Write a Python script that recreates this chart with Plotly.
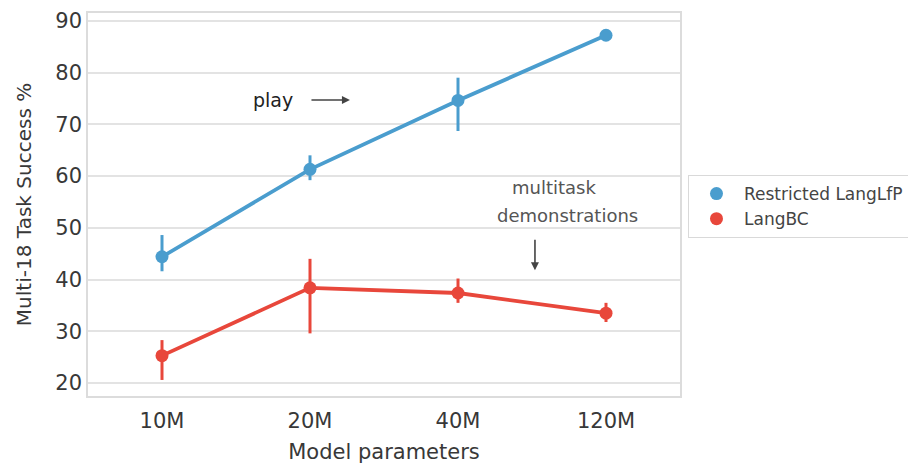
import plotly.graph_objects as go

categories = ["10M", "20M", "40M", "120M"]
lfp_mean = [44.4, 61.3, 74.6, 87.2]
lfp_lo = [41.6, 59.2, 68.7, 86.2]
lfp_hi = [48.6, 64.0, 79.0, 88.2]
bc_mean = [25.3, 38.4, 37.4, 33.5]
bc_lo = [20.6, 29.6, 35.5, 31.8]
bc_hi = [28.3, 44.0, 40.2, 35.5]

BLUE = "#4a9dce"
RED = "#e8473b"
FONT = "DejaVu Sans"

fig = go.Figure()

def add_series(name, mean, lo, hi, color):
    fig.add_trace(go.Scatter(
        x=categories, y=mean, mode="lines+markers", name=name, showlegend=False,
        line=dict(color=color, width=3.8),
        marker=dict(color=color, size=13),
        error_y=dict(type="data", symmetric=False,
                     array=[h - m for h, m in zip(hi, mean)],
                     arrayminus=[m - l for m, l in zip(mean, lo)],
                     color=color, thickness=3, width=0),
    ))
    fig.add_trace(go.Scatter(
        x=[None], y=[None], mode="markers", name=name,
        marker=dict(color=color, size=13),
    ))

add_series("Restricted LangLfP", lfp_mean, lfp_lo, lfp_hi, BLUE)
add_series("LangBC", bc_mean, bc_lo, bc_hi, RED)

fig.add_annotation(x=0.75, y=74.7, text="play", showarrow=False,
                   font=dict(size=19, color="#222", family=FONT))
fig.add_annotation(x=1.27, y=74.7, text="", showarrow=True, ax=-40, ay=0,
                   arrowhead=2, arrowsize=1, arrowwidth=1.6, arrowcolor="#444")
fig.add_annotation(x=2.65, y=57.7, text="multitask", showarrow=False,
                   font=dict(size=18, color="#555", family=FONT))
fig.add_annotation(x=2.74, y=52.3, text="demonstrations", showarrow=False,
                   font=dict(size=18, color="#555", family=FONT))
fig.add_annotation(x=2.52, y=41.8, text="", showarrow=True, ax=0, ay=-32,
                   arrowhead=2, arrowsize=1, arrowwidth=1.6, arrowcolor="#444")

fig.update_layout(
    width=908, height=456,
    margin=dict(l=80, r=236, t=5, b=68, autoexpand=False),
    paper_bgcolor="white", plot_bgcolor="white",
    font=dict(family=FONT, color="#333"),
    legend=dict(x=1.0135, y=0.577, xanchor="left", yanchor="top",
                bordercolor="#d9d9d9", borderwidth=1,
                font=dict(size=17, color="#444", family=FONT),
                itemwidth=45, tracegroupgap=0),
    showlegend=True,
)
fig.update_xaxes(
    type="category", range=[-0.5, 3.5], automargin=False,
    tickfont=dict(size=21, color="#383838"), ticklabelstandoff=5,
    title=dict(text="Model parameters", font=dict(size=21, color="#383838"), standoff=13),
    showgrid=False, showline=True, mirror=True, linecolor="#dcdcdc", linewidth=1.5,
    ticks="", zeroline=False,
)
fig.update_yaxes(
    range=[17.5, 91.5], tickvals=[20, 30, 40, 50, 60, 70, 80, 90], automargin=False,
    tickfont=dict(size=21, color="#383838"),
    title=dict(text="Multi-18 Task Success %", font=dict(size=20, color="#383838"), standoff=18),
    showgrid=True, gridcolor="#e3e3e3", gridwidth=1.5,
    showline=True, mirror=True, linecolor="#dcdcdc", linewidth=1.5,
    ticks="", zeroline=False,
)

fig.write_html("out.html")
